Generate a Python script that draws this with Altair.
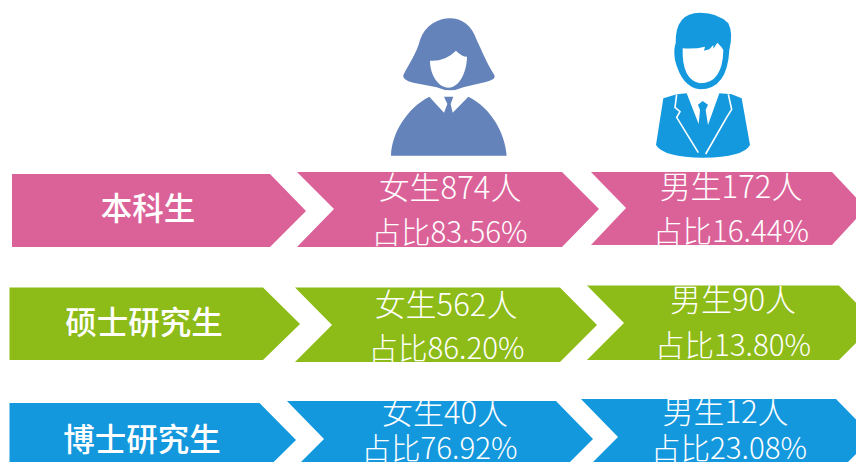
import altair as alt
import pandas as pd

levels = ["本科生", "硕士研究生", "博士研究生"]
female_counts = [874, 562, 40]
male_counts = [172, 90, 12]
female_shares = ["83.56%", "86.20%", "76.92%"]
male_shares = ["16.44%", "13.80%", "23.08%"]
row_colors = ["#DB6299", "#8DBB18", "#1397DD"]

# left, notch, flat, tip, top, bottom, tip-y (picture pixels)
level_boxes = [(12, 12, 270, 306, 174, 247, 211), (9.5, 9.5, 263, 300, 287.5, 360, 324), (9.5, 9.5, 259.5, 296, 403, 476, 440)]
female_boxes = [(297, 334, 562, 599, 172, 247, 209), (295, 332, 560, 597, 287.5, 362, 325), (287, 324, 556, 593, 401, 476, 439)]
male_boxes = [(591, 626, 832, 866, 172, 245, 208), (587, 624, 839, 876, 285.5, 360, 323), (581, 618, 836, 873, 399, 474, 437)]

level_x = [148, 144, 142]
level_y = [211, 325, 442]
female_x1 = [450, 446, 445]
female_x2 = [449.5, 446.5, 439.5]
female_y1 = [190, 307, 415]
female_y2 = [234, 350, 450]
male_x1 = [731, 733, 725.5]
male_x2 = [731, 733, 729]
male_y1 = [189, 302, 414]
male_y2 = [233, 347, 450]

WOMAN_HAIR = ("M240,55 C205,55 165,75 150,120 C140,160 115,195 100,225 Q95,240 130,248 L200,262 Q240,280 280,262 "
              "L350,245 Q380,238 373,225 C350,190 335,150 320,120 C305,75 275,55 240,55 Z "
              "M180,182 Q225,185 258,152 Q275,170 291,170 C290,215 270,262 235,263 C205,262 180,225 180,182 Z")
WOMAN_BODY = ("M63,467 C65,400 110,325 178,290 L222,338 L232,312 L222,290 L250,290 L242,312 L248,338 L295,290 "
              "C365,325 405,400 410,467 Z")
MAN_HEAD = ("M990,38 Q1045,38 1075,70 Q1090,100 1078,150 Q1072,268 990,268 Q935,262 915,180 Q910,150 917,130 Q915,38 990,38 Z")
MAN_FACE = ("M938,145 Q975,148 1005,140 L1002,152 L1018,148 L1030,135 L1030,146 L1042,128 Q1055,140 1060,150 "
            "Q1058,250 990,250 Q935,240 938,145 Z")
MAN_BODY = ("M858,435 L880,295 L920,283 L950,280 L986,372 L990,330 L984,314 L998,303 L1014,314 L1007,330 L1014,375 "
            "L1048,280 L1085,283 L1115,295 L1140,435 Q1120,472 1000,473 Q880,472 858,435 Z")
MAN_LAPEL_L = "M920,283 L915,322 L930,335 L920,352 L985,458"
MAN_LAPEL_R = "M1075,283 L1085,328 L1070,352 L1007,462"


def chevron(box, fill):
    left, notch, flat, tip, top, bottom, tip_y = box
    ring = [[left, top], [flat, top], [tip, tip_y], [flat, bottom], [left, bottom]]
    if notch != left:
        ring.append([notch, tip_y])
    ring.append([left, top])
    return {"type": "Feature", "geometry": {"type": "Polygon", "coordinates": [ring]},
            "properties": {"fill": fill}}


features = []
for i, color in enumerate(row_colors):
    for boxes in (level_boxes, female_boxes, male_boxes):
        features.append(chevron(boxes[i], color))

shapes = alt.Chart(alt.InlineData(values={"type": "FeatureCollection", "features": features},
                                  format=alt.DataFormat(property="features", type="json"))).mark_geoshape(
    strokeWidth=0, stroke=None
).encode(color=alt.Color("properties.fill:N", scale=None, legend=None)).project(
    type="identity", scale=1, translate=[-8, -8]
)

x_scale = alt.Scale(domain=[8, 856], range=[0, 848])
y_scale = alt.Scale(domain=[8, 462], range=[0, 454])

rows = []
for i in range(3):
    rows.append(dict(t=levels[i], x=level_x[i], y=level_y[i], kind="level"))
    rows.append(dict(t=f"女生{female_counts[i]}人", x=female_x1[i], y=female_y1[i], kind="count"))
    rows.append(dict(t=f"占比{female_shares[i]}", x=female_x2[i], y=female_y2[i], kind="share"))
    rows.append(dict(t=f"男生{male_counts[i]}人", x=male_x1[i], y=male_y1[i], kind="count"))
    rows.append(dict(t=f"占比{male_shares[i]}", x=male_x2[i], y=male_y2[i], kind="share"))
text_df = pd.DataFrame(rows)


def text_layer(kind, **mark):
    return alt.Chart(text_df[text_df.kind == kind]).mark_text(
        color="white", font="Noto Sans CJK SC", align="center", baseline="middle", **mark
    ).encode(
        x=alt.X("x:Q", scale=x_scale, axis=None),
        y=alt.Y("y:Q", scale=y_scale, axis=None),
        text="t:N",
    )


level_text = text_layer("level", fontSize=31.5, fontWeight=500)
count_text = text_layer("count", fontSize=31, fontWeight=300)
share_text = text_layer("share", fontSize=29.5, fontWeight=300)


def icon(path, color, x_pos, filled=True, stroke_width=0):
    return alt.Chart(pd.DataFrame({"a": [0]})).mark_point(
        shape=path, size=4 / 9, filled=filled, opacity=1,
        fill=color if filled else None, stroke=None if filled else color, strokeWidth=stroke_width,
    ).encode(x=alt.value(x_pos), y=alt.value(-8))


WOMAN = "#6483BB"
MAN = "#1499DF"
icons = [
    icon(WOMAN_HAIR, WOMAN, 362),
    icon(WOMAN_BODY, WOMAN, 362),
    icon(MAN_HEAD, MAN, 362),
    icon(MAN_FACE, "white", 362),
    icon(MAN_BODY, MAN, 362),
    icon(MAN_LAPEL_L, "white", 362, filled=False, stroke_width=1.6),
    icon(MAN_LAPEL_R, "white", 362, filled=False, stroke_width=1.6),
]

chart = alt.layer(shapes, *icons, level_text, count_text, share_text).resolve_scale(x="shared", y="shared").properties(
    width=848, height=454, padding=0, autosize=alt.AutoSizeParams(type="none"), background="white"
).configure_view(stroke=None)

chart.save("out.html", embed_options={"renderer": "svg", "actions": False})
